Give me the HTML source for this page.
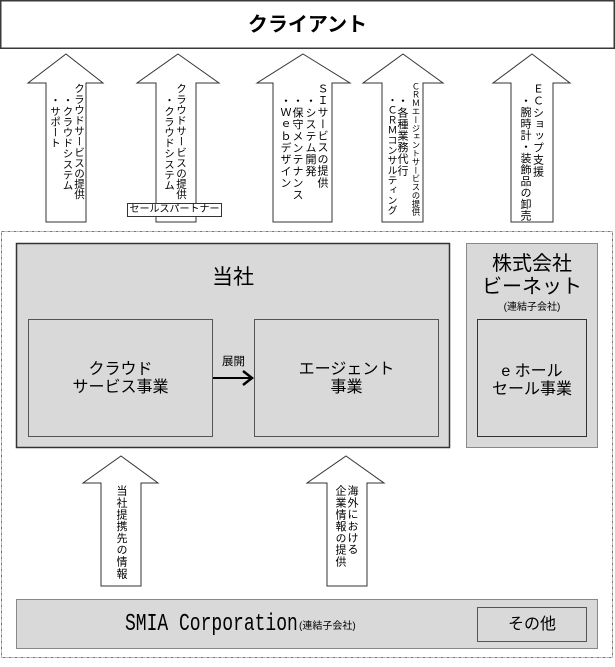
<!DOCTYPE html>
<html><head><meta charset="utf-8">
<style>
html,body{margin:0;padding:0;background:#fff;}
body{width:615px;height:667px;position:relative;overflow:hidden;font-family:"Liberation Sans","Noto Sans CJK JP",sans-serif;color:#000;}
svg{position:absolute;left:0;top:0;}
.t{position:absolute;white-space:nowrap;text-align:center;}
.v{position:absolute;writing-mode:vertical-rl;white-space:nowrap;width:12px;line-height:12px;font-size:11px;}
</style></head><body>
<svg width="615" height="667" viewBox="0 0 615 667">
  <!-- client box -->
  <rect x="0.75" y="0.75" width="613.5" height="47.5" fill="#fff" stroke="#3a3a3a" stroke-width="1.5"/>
  <!-- outer dotted -->
  <rect x="1.5" y="231.5" width="611" height="426" fill="none" stroke="#777" stroke-width="1" stroke-dasharray="3 1 1 1"/>
  <!-- top arrows -->
  <polygon points="66,54 103,83 86,83 86,222 46,222 46,83 28,83" fill="#fff" stroke="#333" stroke-width="1"/>
  <polygon points="178,54 219,83 196,83 196,222 156,222 156,83 137,83" fill="#fff" stroke="#333" stroke-width="1"/>
  <polygon points="303,54 350,83 332,83 332,222 273,222 273,83 257,83" fill="#fff" stroke="#333" stroke-width="1"/>
  <polygon points="403,54 443,83 423,83 423,222 382,222 382,83 363,83" fill="#fff" stroke="#333" stroke-width="1"/>
  <polygon points="532,54 570,83 553,83 553,222 511,222 511,83 493,83" fill="#fff" stroke="#333" stroke-width="1"/>
  <!-- sales partner label -->
  <rect x="127.5" y="203.5" width="94" height="13" fill="#fff" stroke="#333" stroke-width="1"/>
  <!-- 当社 box -->
  <rect x="16.5" y="243.5" width="433" height="204" fill="#d9d9d9" stroke="#333" stroke-width="1.5"/>
  <rect x="28.5" y="319.5" width="184" height="117" fill="#d9d9d9" stroke="#555" stroke-width="1"/>
  <rect x="254.5" y="319.5" width="184" height="117" fill="#d9d9d9" stroke="#555" stroke-width="1"/>
  <line x1="213" y1="378" x2="252" y2="378" stroke="#000" stroke-width="2"/>
  <polyline points="243,371 252,378 243,385" fill="none" stroke="#000" stroke-width="2.5"/>
  <!-- bnet -->
  <rect x="466.5" y="243.5" width="131" height="204" fill="#d9d9d9" stroke="#888" stroke-width="1"/>
  <rect x="477.5" y="319.5" width="109" height="117" fill="#d9d9d9" stroke="#333" stroke-width="1"/>
  <!-- bottom arrows -->
  <polygon points="121,456 158,483 141,483 141,586 101,586 101,483 83,483" fill="#fff" stroke="#333" stroke-width="1"/>
  <polygon points="346,456 384,483 367,483 367,586 327,586 327,483 307,483" fill="#fff" stroke="#333" stroke-width="1"/>
  <!-- SMIA -->
  <rect x="16.5" y="599.5" width="581" height="49" fill="#d9d9d9" stroke="#888" stroke-width="1"/>
  <rect x="477.5" y="607.5" width="109" height="34" fill="#d9d9d9" stroke="#555" stroke-width="1"/>
</svg>

<div class="t" style="left:0;width:615px;top:12px;line-height:26px;font-size:20px;font-weight:bold;">クライアント</div>

<!-- arrow 1 -->
<div class="v" style="left:73px;top:83px;font-size:10.5px;letter-spacing:0.1px;">クラウドサービスの提供</div>
<div class="v" style="left:61.5px;top:95px;font-size:10.5px;letter-spacing:0.1px;">・クラウドシステム</div>
<div class="v" style="left:49px;top:95px;font-size:10.5px;letter-spacing:0.1px;">・サポート</div>
<!-- arrow 2 -->
<div class="v" style="left:175px;top:83px;font-size:10.5px;letter-spacing:0.1px;">クラウドサービスの提供</div>
<div class="v" style="left:163px;top:95px;font-size:10.5px;letter-spacing:0.1px;">・クラウドシステム</div>
<div class="t" style="left:127px;width:95px;top:203px;line-height:14px;font-size:10px;">セールスパートナー</div>
<!-- arrow 3 -->
<div class="v" style="left:316px;top:83px;letter-spacing:0.7px;">ＳＩサービスの提供</div>
<div class="v" style="left:304px;top:95px;letter-spacing:0.7px;">・システム開発</div>
<div class="v" style="left:291px;top:95px;letter-spacing:0.7px;">・保守メンテナンス</div>
<div class="v" style="left:279px;top:95px;letter-spacing:0.7px;">・Ｗｅｂデザイン</div>
<!-- arrow 4 -->
<div class="v" style="left:410px;top:82px;font-size:8.4px;width:11px;line-height:11px;">ＣＲＭエージェントサービスの提供</div>
<div class="v" style="left:396px;top:95px;letter-spacing:0.6px;">・各種業務代行</div>
<div class="v" style="left:384px;top:95px;font-size:10px;">・ＣＲＭコンサルティング</div>
<!-- arrow 5 -->
<div class="v" style="left:531.5px;top:83px;letter-spacing:0.8px;">ＥＣショップ支援</div>
<div class="v" style="left:519px;top:95px;letter-spacing:0.5px;">・腕時計・装飾品の卸売</div>

<!-- 当社 -->
<div class="t" style="left:16px;width:434px;top:265px;line-height:26px;font-size:21px;">当社</div>
<div class="t" style="left:28px;width:185px;top:361px;line-height:18px;font-size:16px;">クラウド<br>サービス事業</div>
<div class="t" style="left:254px;width:185px;top:361px;line-height:18px;font-size:16px;">エージェント<br>事業</div>
<div class="t" style="left:213px;width:41px;top:354px;line-height:16px;font-size:11.5px;">展開</div>

<!-- bnet -->
<div class="t" style="left:466px;width:132px;top:253px;line-height:23px;font-size:20px;">株式会社<br>ビーネット</div>
<div class="t" style="left:466px;width:132px;top:301px;line-height:14px;font-size:10px;">(連結子会社)</div>
<div class="t" style="left:477px;width:110px;top:363px;line-height:18px;font-size:16px;">e ホール<br>セール事業</div>

<!-- bottom arrows text -->
<div class="v" style="left:115px;top:485px;letter-spacing:0.8px;">当社提携先の情報</div>
<div class="v" style="left:346px;top:485px;letter-spacing:0.7px;">海外における</div>
<div class="v" style="left:334px;top:485px;letter-spacing:0.8px;">企業情報の提供</div>

<!-- SMIA -->
<div style="position:absolute;left:125px;top:613px;line-height:24px;font-size:24px;font-family:'Liberation Mono',monospace;white-space:nowrap;transform:scaleX(0.75);transform-origin:0 0;">SMIA Corporation</div>
<div class="t" style="left:299px;top:620px;line-height:14px;font-size:10px;text-align:left;">(連結子会社)</div>
<div class="t" style="left:477px;width:110px;top:614px;line-height:22px;font-size:16px;">その他</div>
</body></html>
